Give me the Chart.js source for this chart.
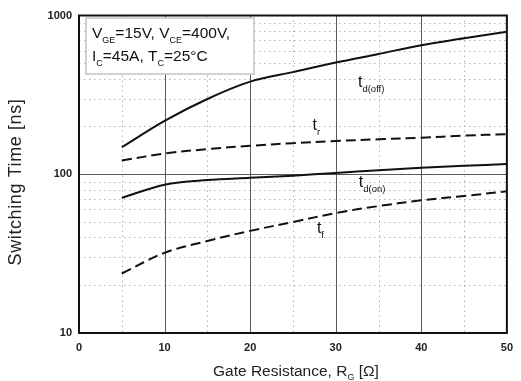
<!DOCTYPE html>
<html>
<head>
<meta charset="utf-8">
<script src="https://cdn.jsdelivr.net/npm/chart.js@4.4.1/dist/chart.umd.min.js"></script>
<style>
  html, body { margin: 0; padding: 0; background: #fff; }
  #wrap { width: 521px; height: 381px; }
</style>
</head>
<body>
<div id="wrap"><canvas id="c" width="521" height="381"></canvas></div>
<script>
// Gate resistance sweep points [ohm]
const rg = [5, 10, 15, 20, 25, 30, 35, 40, 45, 50];
// Switching times [ns]
const tdOff = [148, 217, 298, 383, 440, 505, 572, 650, 718, 790];
const tr    = [122, 135, 144, 151, 157, 162, 166, 170, 175, 179];
const tdOn  = [71, 86, 92, 95, 98, 102, 106, 110, 113, 116];
const tf    = [23.7, 32, 38, 44, 50, 57, 63, 68.5, 73, 78];

const xTicks = [0, 10, 20, 30, 40, 50];
const yTicks = [10, 100, 1000];
const yMinor = [20, 30, 40, 50, 60, 70, 80, 90, 200, 300, 400, 500, 600, 700, 800, 900];
const xMinor = [5, 15, 25, 35, 45];

// Curve name labels: main letter, subscript, anchor in data units
const curveLabels = [
  { main: 't', sub: 'd(off)', x: 32.6, y: 354 },
  { main: 't', sub: 'r',      x: 27.3, y: 190 },
  { main: 't', sub: 'd(on)',  x: 32.7, y: 83 },
  { main: 't', sub: 'f',      x: 27.8, y: 42.7 }
];

const FONT = '"Liberation Sans", Arial, Helvetica, sans-serif';

function pts(vals) { return rg.map((x, i) => ({ x: x, y: vals[i] })); }

function series(vals, dashed) {
  return {
    data: pts(vals),
    borderColor: '#111',
    borderWidth: 2,
    borderDash: dashed ? [10, 5] : [],
    pointRadius: 0,
    fill: false,
    tension: 0.35
  };
}

// draws text with a lowered subscript part; returns end x
function drawSub(ctx, parts, x, y) {
  let cx = x;
  for (const p of parts) {
    ctx.font = p.font;
    ctx.fillText(p.text, cx, y + (p.dy || 0));
    cx += ctx.measureText(p.text).width;
  }
  return cx;
}

const decor = {
  id: 'decor',
  beforeDatasetsDraw(chart) {
    const { ctx, chartArea: a, scales: { x, y } } = chart;
    ctx.save();
    // minor dotted grid
    ctx.strokeStyle = '#b4b4b4';
    ctx.lineWidth = 1;
    ctx.setLineDash([1.5, 3.5]);
    ctx.beginPath();
    for (const v of xMinor) {
      const px = Math.round(x.getPixelForValue(v)) + 0.5;
      ctx.moveTo(px, a.top); ctx.lineTo(px, a.bottom);
    }
    for (const v of yMinor) {
      const py = Math.round(y.getPixelForValue(v)) + 0.5;
      ctx.moveTo(a.left, py); ctx.lineTo(a.right, py);
    }
    ctx.stroke();
    // major solid grid
    ctx.setLineDash([]);
    ctx.strokeStyle = '#5a5a5a';
    ctx.beginPath();
    for (const v of xTicks.slice(1, -1)) {
      const px = Math.round(x.getPixelForValue(v)) + 0.5;
      ctx.moveTo(px, a.top); ctx.lineTo(px, a.bottom);
    }
    const p100 = Math.round(y.getPixelForValue(100)) + 0.5;
    ctx.moveTo(a.left, p100); ctx.lineTo(a.right, p100);
    ctx.stroke();

    // test-condition box
    const bx = a.left + 7, by = a.top + 2.5, bw = 168, bh = 56;
    ctx.fillStyle = '#fff';
    ctx.fillRect(bx, by, bw, bh);
    ctx.strokeStyle = '#c4c4c4';
    ctx.lineWidth = 1.5;
    ctx.strokeRect(bx, by, bw, bh);
    ctx.fillStyle = '#111';
    ctx.textBaseline = 'alphabetic';
    ctx.textAlign = 'left';
    const big = '15.5px ' + FONT, small = '9px ' + FONT;
    drawSub(ctx, [
      { text: 'V', font: big },
      { text: 'GE', font: small, dy: 5 },
      { text: '=15V, V', font: big },
      { text: 'CE', font: small, dy: 5 },
      { text: '=400V,', font: big }
    ], bx + 6, by + 19.5);
    drawSub(ctx, [
      { text: 'I', font: big },
      { text: 'C', font: small, dy: 5 },
      { text: '=45A, T', font: big },
      { text: 'C', font: small, dy: 5 },
      { text: '=25\u00B0C', font: big }
    ], bx + 6, by + 43);
    ctx.restore();
  },
  afterDatasetsDraw(chart) {
    const { ctx, chartArea: a, scales: { x, y } } = chart;
    ctx.save();
    // plot frame
    ctx.strokeStyle = '#111';
    ctx.lineWidth = 2;
    ctx.setLineDash([]);
    ctx.strokeRect(a.left, a.top, a.right - a.left, a.bottom - a.top);

    // curve labels
    ctx.fillStyle = '#111';
    ctx.textAlign = 'left';
    ctx.textBaseline = 'alphabetic';
    for (const l of curveLabels) {
      drawSub(ctx, [
        { text: l.main, font: '16px ' + FONT },
        { text: l.sub, font: '9.5px ' + FONT, dy: 5 }
      ], x.getPixelForValue(l.x), y.getPixelForValue(l.y));
    }

    // x axis title
    ctx.fillStyle = '#222';
    const t1 = 'Gate Resistance, R', t2 = 'G', t3 = ' [\u03A9]';
    const f1 = '15.5px ' + FONT, f2 = '9px ' + FONT;
    ctx.font = f1; const w1 = ctx.measureText(t1).width, w3 = ctx.measureText(t3).width;
    ctx.font = f2; const w2 = ctx.measureText(t2).width;
    const cx = (a.left + a.right) / 2 + 3;
    drawSub(ctx, [
      { text: t1, font: f1 },
      { text: t2, font: f2, dy: 4 },
      { text: t3, font: f1 }
    ], cx - (w1 + w2 + w3) / 2, 376);

    // y axis title
    ctx.translate(21, 182);
    ctx.rotate(-Math.PI / 2);
    ctx.font = '18px ' + FONT;
    ctx.letterSpacing = '0.6px';
    ctx.textAlign = 'center';
    ctx.fillText('Switching Time [ns]', 0, 0);
    ctx.restore();
  }
};

new Chart(document.getElementById('c'), {
  type: 'line',
  data: {
    datasets: [
      series(tdOff, false),
      series(tr, true),
      series(tdOn, false),
      series(tf, true)
    ]
  },
  options: {
    responsive: false,
    animation: false,
    events: [],
    layout: { padding: { left: 0, right: 8, top: 15.5, bottom: 0 } },
    plugins: { legend: { display: false }, tooltip: { enabled: false } },
    scales: {
      x: {
        type: 'linear',
        min: 0, max: 50,
        afterBuildTicks(s) { s.ticks = xTicks.map(v => ({ value: v })); },
        afterFit(s) { s.height = 48; },
        grid: { display: false, drawTicks: false },
        border: { display: false },
        ticks: {
          padding: 8,
          color: '#222',
          font: { family: FONT, size: 11, weight: 'bold' },
          maxRotation: 0
        }
      },
      y: {
        type: 'logarithmic',
        min: 10, max: 1000,
        afterBuildTicks(s) { s.ticks = yTicks.map(v => ({ value: v })); },
        afterFit(s) { s.width = 79; },
        grid: { display: false, drawTicks: false },
        border: { display: false },
        ticks: {
          padding: 7,
          color: '#222',
          font: { family: FONT, size: 11, weight: 'bold' },
          callback: v => String(v)
        }
      }
    }
  },
  plugins: [decor]
});
</script>
</body>
</html>
